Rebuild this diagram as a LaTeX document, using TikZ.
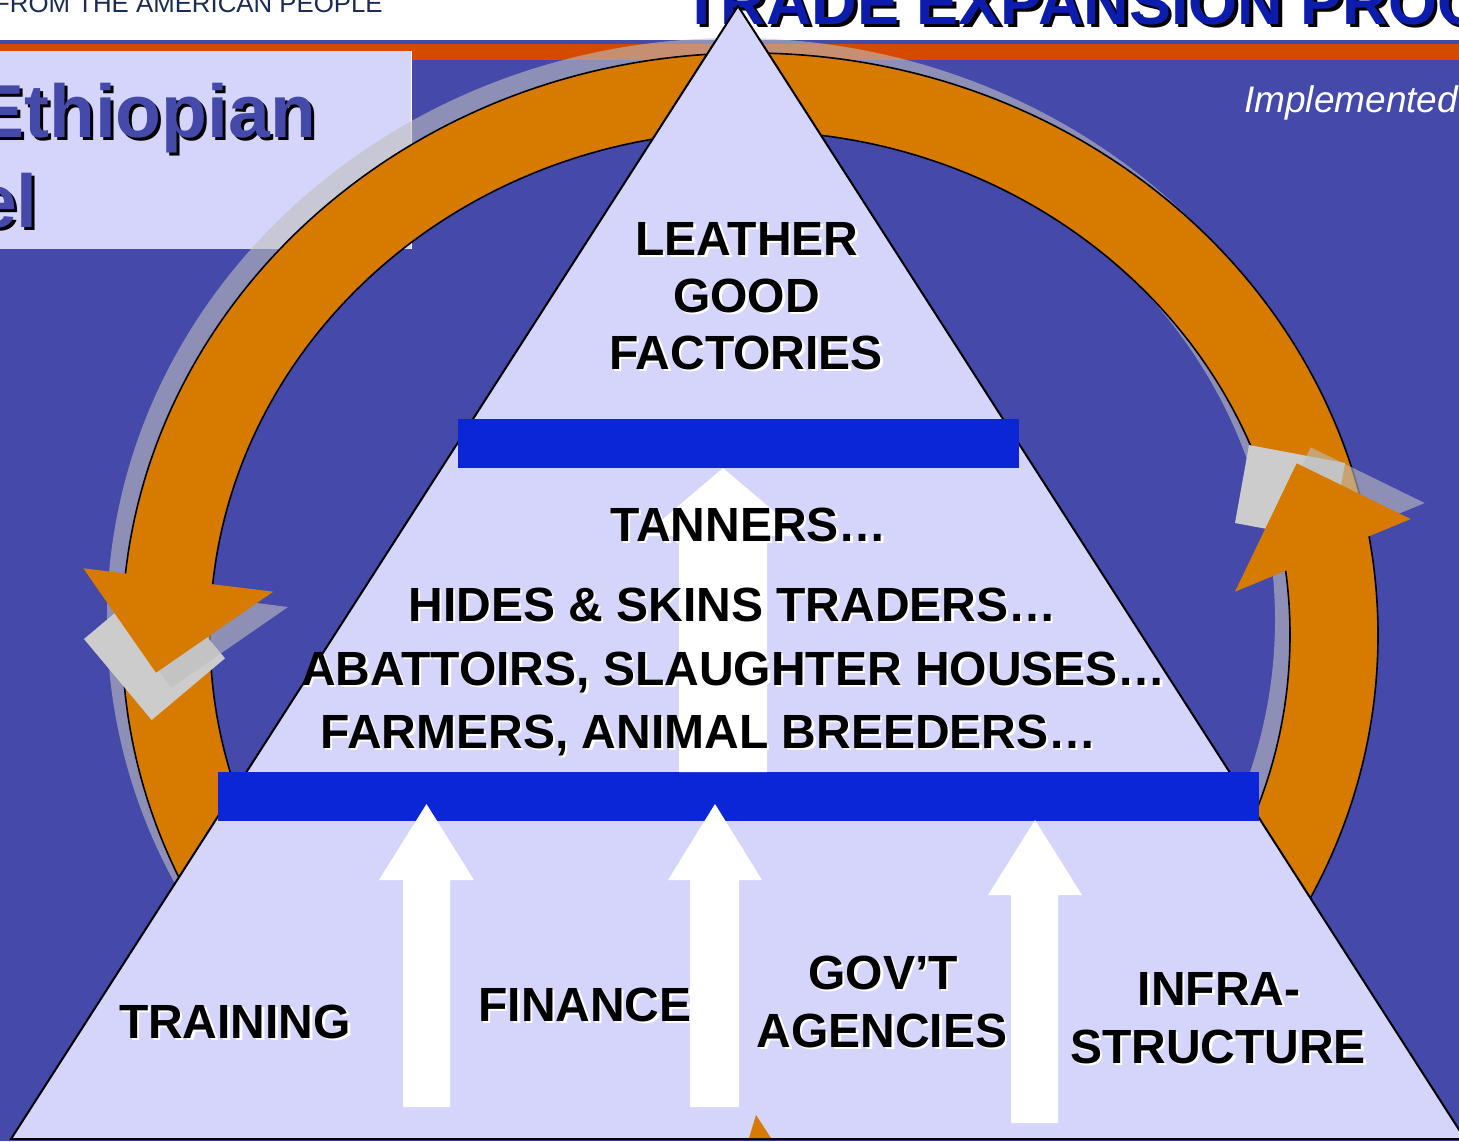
\documentclass[tikz,border=0pt]{standalone}
\usepackage{fontspec}
\setmainfont{Liberation Sans}
\definecolor{bgblue}{RGB}{68,73,170}
\definecolor{lav}{RGB}{213,213,251}
\definecolor{ringor}{RGB}{214,122,0}
\definecolor{hdror}{RGB}{214,74,0}
\definecolor{barblue}{RGB}{11,38,214}
\definecolor{sqgray}{RGB}{204,204,204}
\definecolor{shgray}{RGB}{190,190,190}
\definecolor{navy}{RGB}{28,42,86}
\definecolor{tradeblue}{RGB}{12,28,172}
\newcommand\pyrfont{\fontsize{48}{57}\selectfont\bfseries}
\newcommand\tradefont{\fontsize{63}{70}\selectfont\bfseries}
\newcommand\ethfont{\fontsize{75}{84}\selectfont\bfseries}
\tikzset{
  shadowfill/.style={fill=shgray, fill opacity=0.6},
  lbl/.style={anchor=base, inner sep=0pt, font=\pyrfont, text=black},
  lblsh/.style={anchor=base, inner sep=0pt, font=\pyrfont, text=white},
  barbox/.style={fill=barblue},
  uparrow/.style={fill=white},
  ringstyle/.style={fill=ringor, draw=black, line width=1.6pt, even odd rule},
  sqbox/.style={fill=sqgray},
  headfill/.style={fill=ringor},
}
\newcommand\shlabel[4]{%
  \node[lblsh] (#1s) at (#2+2.5,#3+2.5) {#4};
  \node[lbl] (#1) at (#2,#3) {#4};}
\begin{document}
\begin{tikzpicture}[x=1pt,y=-1pt]
\useasboundingbox (0,0) rectangle (1459,1141);
\clip (0,0) rectangle (1459,1141);
\fill[white] (0,0) rectangle (1459,1141);
% header texts
\node[anchor=base west, inner sep=0pt, text=navy, font=\fontsize{25.8}{30}\selectfont] (usaid) at (-6,12.7) {FROM THE AMERICAN PEOPLE};
\node[anchor=base west, inner sep=0pt, text=black, font=\tradefont] (trades) at (685.5,27.5) {TRADE EXPANSION PROG};
\node[anchor=base west, inner sep=0pt, text=tradeblue, font=\tradefont] (trade) at (682,24) {TRADE EXPANSION PROG};
% header bands
\fill[bgblue] (0,40) rectangle (1459,43.5);
\fill[hdror] (0,43.5) rectangle (1459,60);
\fill[bgblue] (0,60) rectangle (1459,1141);
% title box
\fill[lav] (0,51) rectangle (411,249);
\fill[white] (410.5,51) rectangle (412,249);
\node[anchor=base west, inner sep=0pt, text=black, font=\ethfont] (eths) at (-23,140) {Ethiopian};
\node[anchor=base west, inner sep=0pt, text=bgblue, font=\ethfont] (eth) at (-26,137) {Ethiopian};
\node[anchor=base east, inner sep=0pt, text=black, font=\ethfont] (els) at (41,230) {el};
\node[anchor=base east, inner sep=0pt, text=bgblue, font=\ethfont] (el) at (38,227) {el};
\node[anchor=base west, inner sep=0pt, text=white, font=\fontsize{37}{44}\selectfont\itshape] (impl) at (1244,112) {Implemented};
% ring
\begin{scope}
\clip (0,0) rectangle (1459,1137);
\fill[shadowfill, even odd rule] (735,620) ellipse [x radius=628pt, y radius=582pt] (735,620) ellipse [x radius=540pt, y radius=504pt];
\path[ringstyle] (750,635) ellipse [x radius=628pt, y radius=582pt] (750,635) ellipse [x radius=540pt, y radius=504pt];
\end{scope}
% gray squares
\path[sqbox] (84,639) -- (151.7,720) -- (225,658.3) -- (157.3,577.3) -- cycle;
\path[sqbox] (1249,445) -- (1345,463) -- (1331,541) -- (1235,523) -- cycle;
% arrowhead shadows
\path[shadowfill] (98,583) -- (288,607) -- (171,688) -- cycle;
\path[shadowfill] (1249,576) -- (1310.7,447.3) -- (1424.7,503) -- cycle;
% arrowheads
\path[headfill] (83.3,568.3) -- (273.3,591.7) -- (156,672.7) -- cycle;
\path[headfill] (1235,591.7) -- (1296.7,463.3) -- (1410.7,519) -- cycle;
% pyramid
\path[fill=lav, draw=black, line width=2pt, line join=miter] (738,6) -- (1465,1139) -- (11,1139) -- cycle;
% bars
\path[barbox] (458,419) rectangle (1019,468);
\path[barbox] (218,772) rectangle (1259,821);
% white arrows
\path[uparrow] (679,772) -- (679,536) -- (643,536) -- (723,468) -- (803,536) -- (767,536) -- (767,772) -- cycle;
\path[uparrow] (403,1107) -- (403,880) -- (379,880) -- (426.5,804) -- (474,880) -- (450,880) -- (450,1107) -- cycle;
\path[uparrow] (690,1107) -- (690,880) -- (668,880) -- (715,804) -- (762,880) -- (739,880) -- (739,1107) -- cycle;
\path[uparrow] (1011,1123) -- (1011,895) -- (988,895) -- (1035,820) -- (1082,895) -- (1058,895) -- (1058,1123) -- cycle;
% small orange tip
\path[headfill] (749,1138) -- (756,1115) -- (771,1138) -- cycle;
% labels
\shlabel{leather}{747}{255}{LEATHER}
\shlabel{good}{746.5}{312}{GOOD}
\shlabel{fact}{746}{369}{FACTORIES}
\shlabel{tan}{748.5}{541}{TANNERS…}
\shlabel{hides}{732.5}{621}{HIDES \& SKINS TRADERS…}
\shlabel{abat}{733.5}{685}{ABATTOIRS, SLAUGHTER HOUSES…}
\shlabel{farm}{708.5}{748}{FARMERS, ANIMAL BREEDERS…}
\shlabel{train}{235}{1038}{TRAINING}
\shlabel{fin}{585}{1021}{FINANCE}
\shlabel{gov}{883}{989}{GOV’T}
\shlabel{agen}{882}{1047}{AGENCIES}
\shlabel{infra}{1219}{1005}{INFRA-}
\shlabel{struct}{1218}{1063}{STRUCTURE}
\end{tikzpicture}
\end{document}
